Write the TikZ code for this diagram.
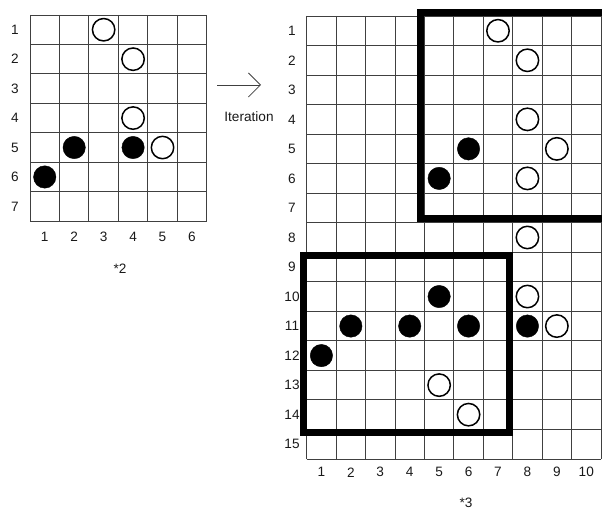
\documentclass[tikz,border=0pt]{standalone}
\usepackage{fontspec}
\setmainfont{Liberation Sans}
\usetikzlibrary{arrows.meta}
\begin{document}
\begin{tikzpicture}[x=1pt,y=-1pt,
  gridline/.style={draw=black!75, line width=0.9pt},
  wstone/.style={draw=black, line width=1.5pt, fill=white},
  bstone/.style={draw=black, fill=black},
  thickbox/.style={draw=black, line width=7pt},
  lbl/.style={font=\fontsize{13.6}{16}\selectfont, inner sep=0pt, text=black!90}
]
\useasboundingbox (0,0) rectangle (602,510);
% ---------- left grid ----------
\foreach \i in {0,...,6} \draw[gridline] ({30+\i*29.45},15) -- ({30+\i*29.45},221.15);
\foreach \j in {0,...,7} \draw[gridline] (30,{15+\j*29.45}) -- (206.7,{15+\j*29.45});
\foreach \c/\r in {3/1,4/2,4/4,5/5}
  \draw[wstone] ({30+(\c-0.5)*29.45},{15+(\r-0.5)*29.45}) circle[radius=11.2pt];
\foreach \c/\r in {2/5,4/5,1/6}
  \draw[bstone] ({30+(\c-0.5)*29.45},{15+(\r-0.5)*29.45}) circle[radius=11.2pt];
\foreach \r in {1,...,7}
  \node[lbl] (lr\r) at (15,{15+(\r-0.5)*29.45}) {\r};
\foreach \c in {1,...,6}
  \node[lbl] (lc\c) at ({30+(\c-0.5)*29.45},237) {\c};
\node[lbl] (lname) at (120,269) {*2};
% ---------- arrow ----------
\coordinate (arrS) at (217,85);
\coordinate (arrE) at (261,85);
\draw[line width=0.8pt, black!75, -{Straight Barb[length=12pt,width=24pt,line width=0.8pt]}] (arrS) -- (arrE);
\node[lbl] (iter) at (249,117) {Iteration};
% ---------- right grid ----------
\foreach \i in {0,...,10} \draw[gridline] ({306.7+\i*29.43},16) -- ({306.7+\i*29.43},459);
\foreach \j in {0,...,15} \draw[gridline] (306.7,{16+\j*29.53}) -- (601,{16+\j*29.53});
\foreach \c/\r in {7/1,8/2,8/4,9/5,8/6,8/8,8/10,9/11,5/13,6/14}
  \draw[wstone] ({306.7+(\c-0.5)*29.43},{16+(\r-0.5)*29.53}) circle[radius=11.2pt];
\foreach \c/\r in {6/5,5/6,5/10,2/11,4/11,6/11,8/11,1/12}
  \draw[bstone] ({306.7+(\c-0.5)*29.43},{16+(\r-0.5)*29.53}) circle[radius=11.2pt];
\foreach \r in {1,...,15}
  \node[lbl] (rr\r) at (292,{16+(\r-0.5)*29.53}) {\r};
\foreach \c in {1,...,10}
  \node[lbl] (rc\c) at ({306.7+(\c-0.5)*29.43},472.3) {\c};
\node[lbl] (rname) at (466,503) {*3};
% ---------- thick boxes ----------
\draw[thickbox] (602,12.5) -| (420.3,219) -- (602,219);
\draw[thickbox] (303.2,255.5) rectangle (509.7,432.5);
\end{tikzpicture}
\end{document}
